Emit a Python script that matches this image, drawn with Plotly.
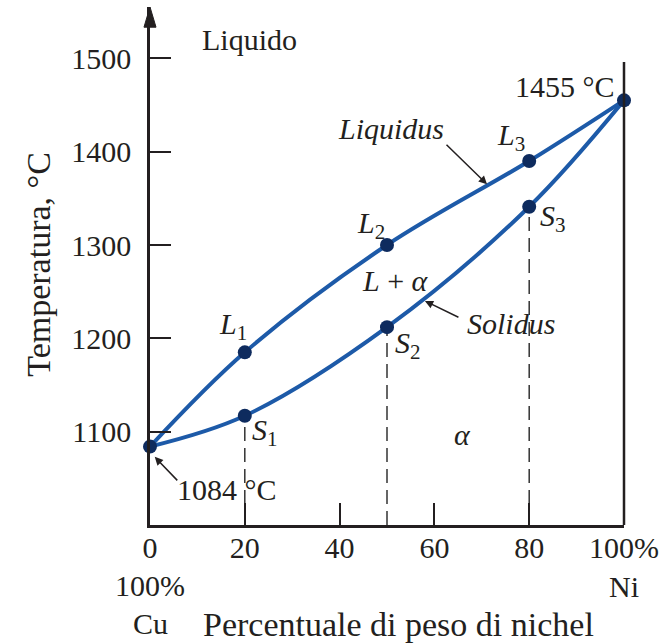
import plotly.graph_objects as go

# Cu–Ni phase diagram: composition (wt% Ni) and temperatures (°C)
ni_pct = [0, 20, 50, 80, 100]
liquidus_T = [1084, 1185, 1300, 1390, 1455]
solidus_T = [1084, 1117, 1212, 1341, 1455]

# compositions of the three alloys and their solidus temperatures
alloy_ni = [20, 50, 80]
alloy_solidus_T = [1117, 1212, 1341]

x_tickvals = [0, 20, 40, 60, 80, 100]
x_ticktext = ["0", "20", "40", "60", "80", "100%"]
y_tickvals = [1100, 1200, 1300, 1400, 1500]
y_ticktext = ["1100", "1200", "1300", "1400", "1500"]

T_MIN, T_MAX = 1000, 1555

INK = "#231f20"
CURVE = "#1d5aa8"
DOT = "#0e2b5e"
FONT = "Liberation Serif"
FS = 30

fig = go.Figure()

# dashed verticals from each solidus point down to the composition axis
dash_x, dash_y = [], []
for xv, tv in zip(alloy_ni, alloy_solidus_T):
    dash_x += [xv, xv, None]
    dash_y += [T_MIN, tv, None]
fig.add_trace(go.Scatter(x=dash_x, y=dash_y, mode="lines",
                         line=dict(color="#333333", width=1.5, dash="14px,7px"),
                         hoverinfo="skip", showlegend=False))

# liquidus and solidus curves
for temps in (liquidus_T, solidus_T):
    fig.add_trace(go.Scatter(x=ni_pct, y=temps, mode="lines",
                             line=dict(color=CURVE, width=4, shape="spline", smoothing=1),
                             cliponaxis=False, showlegend=False))

# points on the curves
fig.add_trace(go.Scatter(x=ni_pct + alloy_ni, y=liquidus_T + alloy_solidus_T, mode="markers",
                         marker=dict(color=DOT, size=14),
                         cliponaxis=False, showlegend=False))

def label(x, y, text, xanchor="center", xref="x", yref="y", size=FS, angle=0):
    fig.add_annotation(x=x, y=y, xref=xref, yref=yref, text=text, showarrow=False,
                       xanchor=xanchor, yanchor="middle", textangle=angle,
                       font=dict(family=FONT, size=size, color=INK))

def pointer(x, y, ax, ay):
    fig.add_annotation(x=x, y=y, xref="x", yref="y", text="", showarrow=True,
                       ax=ax, ay=ay, axref="pixel", ayref="pixel",
                       arrowhead=2, arrowsize=1.1, arrowwidth=1.5, arrowcolor=INK)

label(10.5, 1520, "Liquido", xanchor="left")
label(98.6, 1470, "1455 °C", xanchor="right")
label(50.9, 1425, "<i>Liquidus</i>")
label(76.2, 1416, "<i>L</i><sub>3</sub>")
label(46.7, 1321, "<i>L</i><sub>2</sub>")
label(17.5, 1213, "<i>L</i><sub>1</sub>")
label(51.7, 1262, "<i>L</i> + <i>α</i>")
label(76.2, 1216, "<i>Solidus</i>")
label(85.1, 1329, "<i>S</i><sub>3</sub>")
label(54.5, 1193, "<i>S</i><sub>2</sub>")
label(24.3, 1100, "<i>S</i><sub>1</sub>")
label(65.9, 1097, "<i>α</i>")
label(16.2, 1038, "1084 °C")

pointer(71.1, 1365, -42, -41)
pointer(58.0, 1240, 35, 17)
pointer(1.0, 1073, 24, 25)

# labels below the composition axis
label(0, -0.116, "100%", xref="paper", yref="paper")
label(0, -0.191, "Cu", xref="paper", yref="paper")
label(1, -0.118, "Ni", xref="paper", yref="paper")
label(0.525, -0.193, "Percentuale di peso di nichel", xref="paper", yref="paper", size=34)
label(-0.236, 1279, "Temperatura, °C", xref="paper", angle=-90, size=34)

# arrowhead on top of the temperature axis
fig.add_shape(type="path", xref="paper", yref="paper",
              path="M -0.0127 0.961 L 0 1.0 L 0.0127 0.961 Z",
              fillcolor=INK, line=dict(color=INK, width=1))
# pure-nickel vertical
fig.add_shape(type="line", xref="paper", yref="paper", x0=1, x1=1, y0=0, y1=0.894,
              line=dict(color=INK, width=2.5))

axis_common = dict(showgrid=False, zeroline=False, showline=True, linecolor=INK, linewidth=2.5,
                   ticks="inside", tickcolor=INK, tickwidth=1.5,
                   tickfont=dict(family=FONT, size=FS, color=INK))

fig.update_xaxes(range=[0, 100], tickvals=x_tickvals, ticktext=x_ticktext, ticklen=22,
                 ticklabelstandoff=-6, **axis_common)
fig.update_yaxes(range=[T_MIN, T_MAX], tickvals=y_tickvals, ticktext=y_ticktext, ticklen=21,
                 ticklabelstandoff=10, **axis_common)

fig.update_layout(width=661, height=644,
                  margin=dict(l=150, r=37, t=7, b=119, autoexpand=False),
                  plot_bgcolor="white", paper_bgcolor="white", showlegend=False,
                  font=dict(family=FONT, color=INK))

fig.write_html("out.html")
